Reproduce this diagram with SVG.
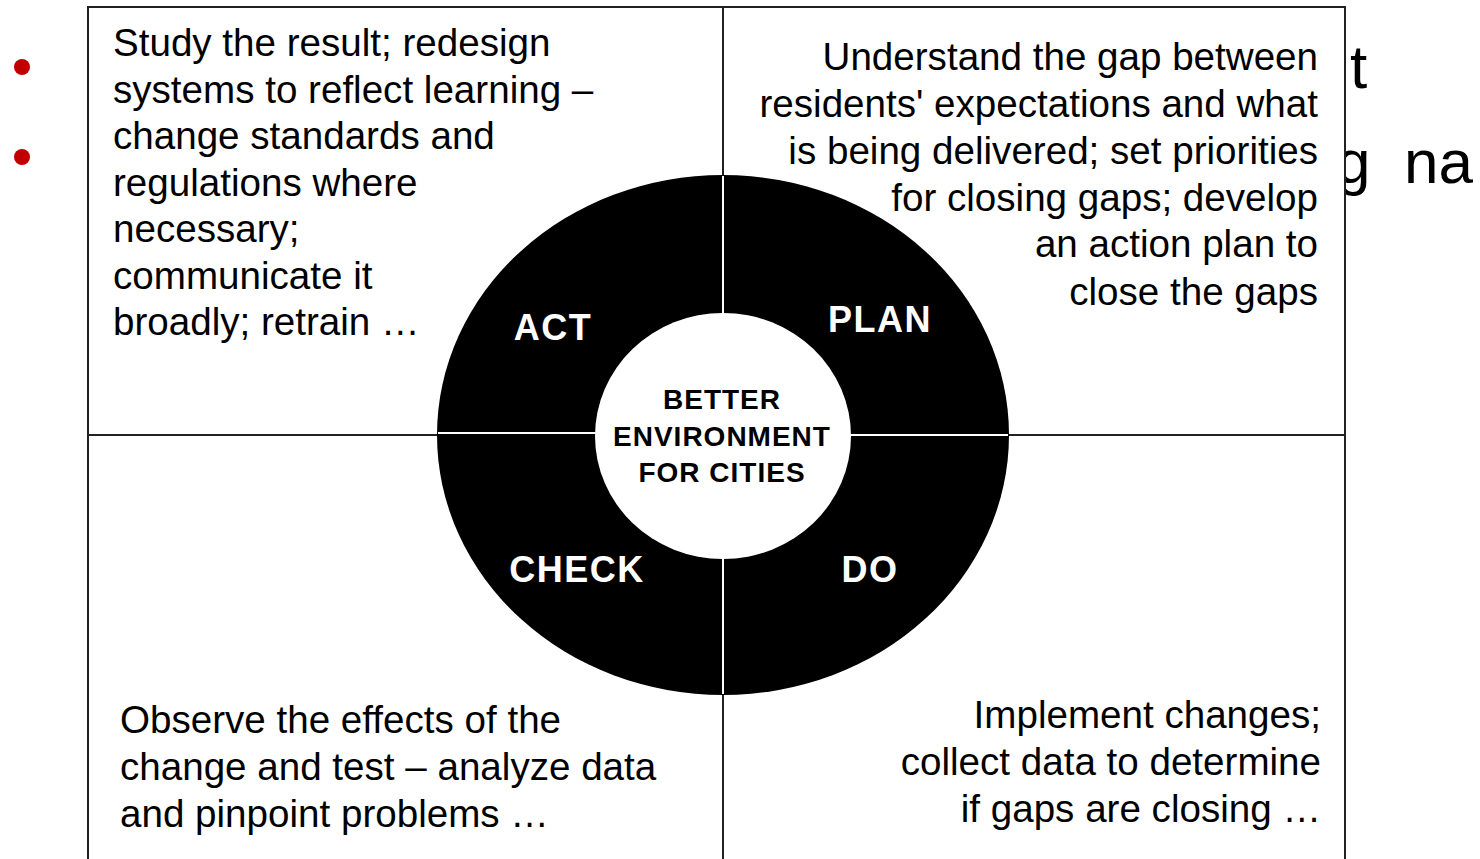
<svg xmlns="http://www.w3.org/2000/svg" width="1480" height="859" viewBox="0 0 1480 859">
<style>
.bg{font-family:"Liberation Sans",Arial,sans-serif;font-size:62px;fill:#000}
.desc{font-family:"Liberation Sans",Arial,sans-serif;font-size:38.6px;fill:#000}
.r{text-anchor:end}
.lbl{font-family:"Liberation Sans",Arial,sans-serif;font-size:36px;font-weight:bold;fill:#fff;text-anchor:middle;letter-spacing:1.5px}
.ctr{font-family:"Liberation Sans",Arial,sans-serif;font-size:28px;font-weight:bold;fill:#000;text-anchor:middle;letter-spacing:1px}
.div{stroke:#222;stroke-width:2;fill:none}
.gap{stroke:#fff;stroke-width:2;fill:none}
</style>
<rect width="1480" height="859" fill="#fff"/>
<g id="slide-background">
<circle cx="22" cy="67" r="8" fill="#c00000"/>
<circle cx="22" cy="157" r="8" fill="#c00000"/>
<text class="bg" x="1350" y="88">t</text>
<text class="bg" x="1336" y="183">g<tspan x="1404">na</tspan></text>
</g>
<g id="frame">
<rect x="88" y="7" width="1257" height="870" fill="#fff" stroke="#222" stroke-width="2"/>
</g>
<g id="connectors">
<line class="div" x1="723" y1="7" x2="723" y2="859"/>
<line class="div" x1="88" y1="435" x2="1345" y2="435"/>
</g>
<g id="ring">
<ellipse cx="723" cy="435" rx="286" ry="260" fill="#000"/>
<line class="gap" x1="723" y1="176" x2="723" y2="694"/>
<line class="gap" x1="438" y1="433" x2="723" y2="433"/>
<line class="gap" x1="723" y1="435" x2="1008" y2="435"/>
</g>
<g id="center">
<ellipse cx="723" cy="436" rx="128" ry="123" fill="#fff"/>
<text class="ctr" x="722" y="409">BETTER</text>
<text class="ctr" x="722" y="446">ENVIRONMENT</text>
<text class="ctr" x="722" y="482">FOR CITIES</text>
</g>
<g id="act">
<text class="lbl" x="553" y="340">ACT</text>
<text class="desc" x="113" y="56">Study the result; redesign</text>
<text class="desc" x="113" y="102.5">systems to reflect learning –</text>
<text class="desc" x="113" y="149">change standards and</text>
<text class="desc" x="113" y="195.5">regulations where</text>
<text class="desc" x="113" y="242">necessary;</text>
<text class="desc" x="113" y="288.5">communicate it</text>
<text class="desc" x="113" y="335">broadly; retrain …</text>
</g>
<g id="plan">
<text class="lbl" x="880" y="332">PLAN</text>
<text class="desc r" x="1318" y="70">Understand the gap between</text>
<text class="desc r" x="1318" y="117">residents' expectations and what</text>
<text class="desc r" x="1318" y="164">is being delivered; set priorities</text>
<text class="desc r" x="1318" y="211">for closing gaps; develop</text>
<text class="desc r" x="1318" y="257">an action plan to</text>
<text class="desc r" x="1318" y="305">close the gaps</text>
</g>
<g id="check">
<text class="lbl" x="577" y="582">CHECK</text>
<text class="desc" x="120" y="733">Observe the effects of the</text>
<text class="desc" x="120" y="780">change and test – analyze data</text>
<text class="desc" x="120" y="827">and pinpoint problems …</text>
</g>
<g id="do">
<text class="lbl" x="870" y="582">DO</text>
<text class="desc r" x="1321" y="728">Implement changes;</text>
<text class="desc r" x="1321" y="775">collect data to determine</text>
<text class="desc r" x="1321" y="822">if gaps are closing …</text>
</g>
</svg>
